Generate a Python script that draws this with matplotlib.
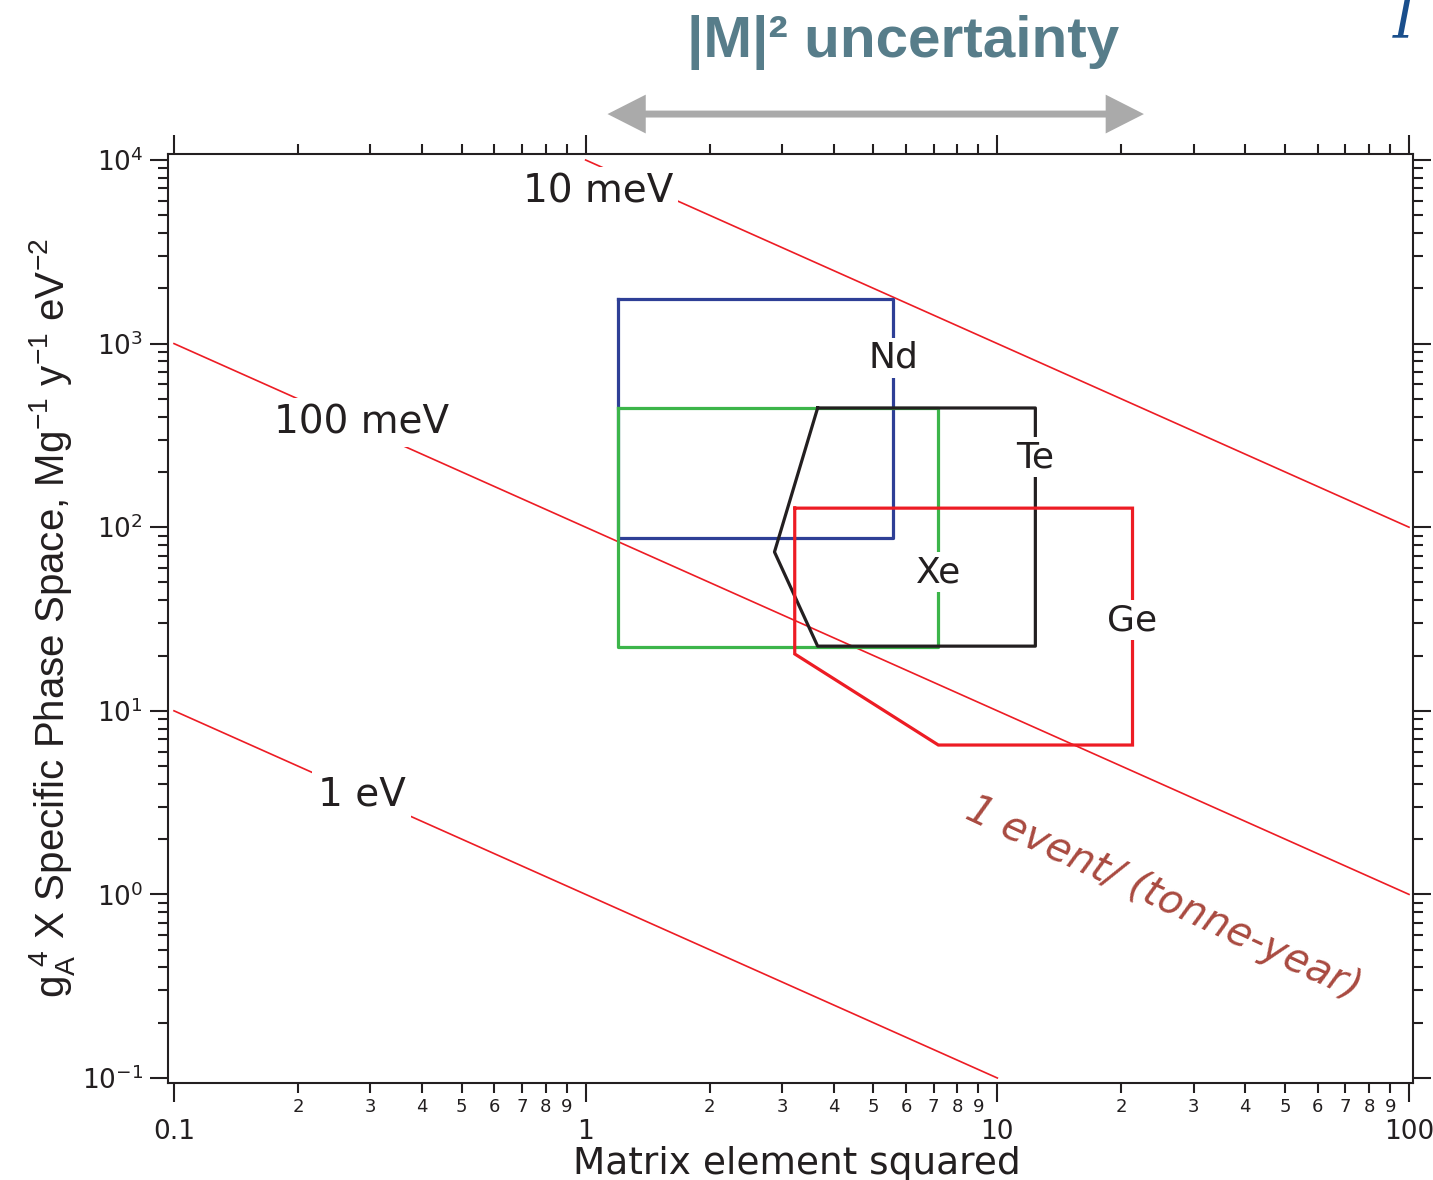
import matplotlib
matplotlib.use('Agg')
import matplotlib.pyplot as plt
import numpy as np
from matplotlib.ticker import FixedLocator, FixedFormatter, FuncFormatter, LogLocator, NullFormatter
from matplotlib.patches import FancyArrowPatch

# effective mass lines, G = coeff / M^2
mass_labels = ['10 meV', '100 meV', '1 eV']
mass_coeff = [1e4, 1e2, 1e0]
mass_x_start = [1.0, 0.1, 0.1]
mass_x_end = [100.0, 100.0, 10.0]
mass_label_x = [1.07, 0.286, 0.286]
mass_label_y = [6700, 370, 3.5]

# isotope regions (M^2 range, phase space range)
nd_x = [1.2, 5.59, 5.59, 1.2, 1.2]
nd_y = [1750, 1750, 87.4, 87.4, 1750]
xe_x = [1.2, 7.19, 7.19, 1.2, 1.2]
xe_y = [446, 446, 22.3, 22.3, 446]
te_x = [3.66, 12.37, 12.37, 3.66, 2.875, 3.66]
te_y = [446, 446, 22.5, 22.5, 73.3, 446]
ge_x = [3.22, 21.3, 21.3, 7.19, 3.22, 3.22]
ge_y = [127, 127, 6.51, 6.51, 20.4, 127]

iso_names = ['Nd', 'Te', 'Xe', 'Ge']
iso_label_x = [5.59, 12.37, 7.19, 21.3]
iso_label_y = [835, 241, 57, 31.2]

m2_range = [1.13, 22.7]   # |M|^2 uncertainty arrow

x_major = [0.1, 1, 10, 100]
x_major_labels = ['0.1', '1', '10', '100']

dark = '#231f20'
red = '#ed1c24'

fig = plt.figure(figsize=(14.33, 11.8), dpi=100)
ax = fig.add_axes([168/1433, 1 - 1083/1180, (1413-168)/1433, (1083-154)/1180])

ax.set_xscale('log')
ax.set_yscale('log')
ax.set_xlim(10**(-1 - 6/412), 10**(2 + 4/412))
ax.set_ylim(10**(-1 - 5/183.6), 10**(4 + 6/183.6))

# mass lines
for lab, c, x0, x1, lx, ly in zip(mass_labels, mass_coeff, mass_x_start, mass_x_end,
                                  mass_label_x, mass_label_y):
    xs = np.array([x0, x1])
    ax.plot(xs, c / xs, color=red, lw=1.2, zorder=2)
    ax.text(lx, ly, lab, fontsize=28, color=dark, ha='center', va='center', zorder=4,
            bbox=dict(fc='white', ec='none', pad=4))

# isotope boxes
ax.plot(nd_x, nd_y, color='#2e3f96', lw=2.3, zorder=3)
ax.plot(xe_x, xe_y, color='#3cb54a', lw=2.3, zorder=3)
ax.plot(te_x, te_y, color=dark, lw=2.3, zorder=3)
ax.plot(ge_x, ge_y, color=red, lw=2.3, zorder=3, solid_joinstyle='miter')

for name, lx, ly in zip(iso_names, iso_label_x, iso_label_y):
    ax.text(lx, ly, name, fontsize=26, color=dark, ha='center', va='center', zorder=5,
            bbox=dict(fc='white', ec='none', pad=2))

ax.text(25.4, 0.95, '1 event/ (tonne-year)', fontsize=29, style='italic', color='#a94a40',
        rotation=-25, rotation_mode='anchor', ha='center', va='center', zorder=5)

# axes styling (IGOR look)
for sp in ax.spines.values():
    sp.set_linewidth(1.5)
    sp.set_color(dark)

ax.xaxis.set_major_locator(FixedLocator(x_major))
ax.xaxis.set_major_formatter(FixedFormatter(x_major_labels))
ax.xaxis.set_minor_locator(LogLocator(base=10, subs=np.arange(2, 10)))
ax.xaxis.set_minor_formatter(FuncFormatter(
    lambda v, p: '%d' % round(v / 10**np.floor(np.log10(v) + 1e-9))))
ax.yaxis.set_major_locator(LogLocator(base=10))
ax.yaxis.set_minor_locator(LogLocator(base=10, subs=np.arange(2, 10)))
ax.yaxis.set_minor_formatter(NullFormatter())

ax.tick_params(which='both', direction='out', top=True, right=True,
               labeltop=False, labelright=False, width=1.5, color=dark, labelcolor=dark)
ax.tick_params(axis='x', which='major', length=14, pad=12, labelsize=19)
ax.tick_params(axis='x', which='minor', length=7, pad=4, labelsize=13)
ax.tick_params(axis='y', which='major', length=13, pad=5, labelsize=19)
ax.tick_params(axis='y', which='minor', length=7)

fig.text(797/1433, 6/1180, 'Matrix element squared', fontsize=27, color=dark,
         ha='center', va='baseline')
fig.text(52/1433, 1 - 618/1180,
         r'g$_\mathregular{A}^{\ \mathregular{4}}$ X Specific Phase Space, '
         r'Mg$^{\mathregular{-1}}$ y$^{\mathregular{-1}}$ eV$^{\mathregular{-2}}$',
         fontsize=29, color=dark, rotation=90, ha='center', va='center',
         family=['Liberation Sans', 'DejaVu Sans'])

# |M|^2 uncertainty
ax.add_patch(FancyArrowPatch((m2_range[0], 1.043), (m2_range[1], 1.043),
                             transform=ax.get_xaxis_transform(),
                             arrowstyle='<|-|>,head_length=0.65,head_width=0.33',
                             mutation_scale=30, lw=5, color='#aaaaaa', joinstyle='miter',
                             capstyle='butt', shrinkA=0, shrinkB=0, clip_on=False))
fig.text(903/1433, 1 - 42/1180, '|M|\u00b2 uncertainty', fontsize=42, fontweight='bold',
         color='#577d8a', ha='center', va='center',
         family=['Liberation Sans Narrow', 'Liberation Sans', 'DejaVu Sans'])
fig.text(1393/1433, 1 - 22/1180, 'I', fontsize=40, style='italic', color='#1a4f8c',
         family='DejaVu Serif', ha='left', va='center')

fig.savefig('out.png', dpi=100)
